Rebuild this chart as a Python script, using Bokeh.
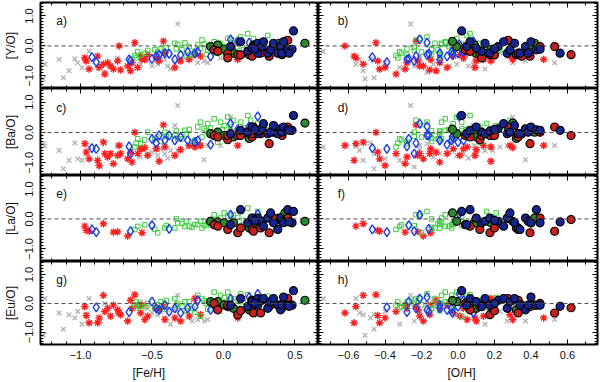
import numpy as np
from bokeh.plotting import figure
from bokeh.models import Range1d, LinearAxis, FixedTicker, Span, Label, Title
from bokeh.layouts import column, row
from bokeh.embed import file_html
from bokeh.resources import INLINE

NA = float("nan")

# ---------------- data ----------------
# gray crosses
gx_feh = [-1.26, -1.25, -1.15, -1.12, -1.08, -1.04, -1.02, -0.99, -0.96, -0.94, -0.86, -0.83, -0.74, -0.58, -0.53,
          -0.50, -0.46, -0.44, -0.41, -0.39, -0.37, -0.32, -0.34, -0.32, -0.25, -0.22, -0.18, -0.135, -0.11, -0.02, 0.05]
gx_oh = [-0.51, -0.56, -0.54, -0.46, -0.52, -0.48, -0.40, -0.32, -0.46, -0.74, -0.24, -0.17, -0.21, -0.135, -0.10,
         -0.044, -0.007, -0.21, 0.03, 0.057, 0.148, -0.26, 0.084, 0.19, 0.23, 0.27, 0.30, 0.37, 0.53, 0.09, 0.30]
gx_yo = [-1.10, -0.61, -0.45, -1.06, -0.83, -0.43, -0.56, -0.72, -0.50, -0.18, -0.67, -0.88, -0.40, -0.61, -0.50,
         -0.67, -0.61, -0.34, -0.45, -0.67, -0.77, 0.73, -0.61, -0.50, -0.24, -0.34, -0.56, -0.50, -0.56, -0.40, -0.30]
gx_bao = [-0.37, -0.45, -0.59, -1.20, -0.92, -0.35, -0.87, -0.92, -0.70, -0.48, -1.14, -0.37, -0.43, -0.81, -0.70,
          -0.65, -0.76, -0.55, -0.70, -0.85, -0.60, 0.89, 0.23, -0.59, -0.48, -0.43, -0.48, -0.90, -0.43, -0.43, 0.50]
gx_lao = [NA] * 31
gx_euo = [-1.10, 0.17, -0.33, -0.89, -0.39, -0.50, -0.28, -0.72, -0.37, 0.17, -0.61, 0.00, -0.33, 0.06, -0.17,
          -0.33, -0.40, -0.28, -0.50, -0.22, -0.72, 0.28, -0.22, -0.06, -0.28, -0.61, -0.56, -0.61, -0.55, -0.30, -0.20]

# red asterisks
rs_feh = [-0.97, -0.96, -0.94, -0.88, -0.87, -0.84, -0.83, -0.81, -0.79, -0.77, -0.74, -0.73, -0.72, -0.67, -0.65, -0.64,
          -0.62, -0.60, -0.58, -0.57, -0.53, -0.47, -0.42, -0.41, -0.34, -0.30, -0.24, -0.20, -0.16, 0.10, -0.55, -0.45]
rs_oh = [-0.56, -0.44, -0.43, -0.57, -0.40, -0.52, -0.34, -0.28, -0.21, -0.29, -0.22, -0.62, -0.155, -0.19, -0.12, -0.10,
         -0.45, -0.06, -0.026, -0.15, 0.01, 0.03, -0.23, 0.05, 0.093, 0.10, 0.14, 0.18, 0.285, 0.47, 0.30, 0.18]
rs_yo = [-0.40, -0.50, -0.77, -0.34, -0.72, -0.61, -0.94, -0.56, -0.67, -0.77, -0.50, 0.00, -0.80, -0.67, -0.83, -0.56,
         0.11, -0.72, -0.34, -0.45, -0.29, -0.40, 0.16, -0.24, -0.72, -0.50, -0.45, -0.29, -0.34, -0.45, -0.45, -0.50]
rs_bao = [-0.37, -0.65, -0.87, -0.92, -1.09, -0.32, -0.70, -0.81, -0.70, -1.03, -0.76, -0.43, -0.70, -0.87, -0.65, -0.98,
          0.00, -0.70, -0.54, -0.54, -0.76, -0.54, 0.25, -0.48, -0.76, -0.57, -0.43, -0.48, -0.43, -0.43, -0.50, -0.95]
rs_lao = [-0.24, -0.38, -0.41, NA, NA, -0.16, NA, NA, NA, -0.44, -0.43, NA, NA, -0.57, NA, NA,
          NA, NA, NA, -0.46, NA, NA, NA, NA, NA, NA, NA, NA, NA, NA, NA, NA]
rs_euo = [-0.11, -0.42, -0.67, -0.67, -0.50, 0.28, -0.28, -0.17, -0.44, -0.06, -0.22, -0.33, -0.39, -0.61, 0.11, -0.17,
          0.30, -0.06, -0.33, -0.06, -0.44, -0.17, -0.10, -0.56, -0.50, -0.61, -0.44, 0.17, -0.39, -0.50, -0.56, -0.20]

# green open squares
gs_feh = [-0.62, -0.61, -0.60, -0.58, -0.55, -0.53, -0.48, -0.46, -0.44, -0.41,
          -0.40, -0.34, -0.33, -0.32, -0.29, -0.27, -0.26, -0.24, -0.22, -0.20,
          -0.18, -0.16, -0.15, -0.135, -0.12, -0.11, -0.09, -0.065, -0.05, -0.04,
          -0.02, -0.007, 0.005, 0.03, 0.05, 0.07, 0.10, 0.12, 0.14, 0.17,
          0.19, 0.21, 0.24, 0.31]
gs_oh = [-0.34, -0.33, -0.32, -0.28, -0.31, -0.24, -0.145, -0.20, -0.28, -0.10,
         -0.24, -0.126, -0.145, -0.09, -0.11, -0.07, -0.10, -0.05, -0.145, -0.026,
         -0.035, 0.02, -0.035, 0.02, -0.10, -0.026, 0.084, -0.07, 0.157, 0.12,
         -0.09, 0.18, 0.21, -0.007, 0.12, -0.23, 0.02, -0.17, 0.23, 0.066,
         0.285, -0.21, 0.157, 0.047]
gs_yo = [-0.32, -0.40, -0.20, -0.30, -0.24, -0.15, -0.13, -0.20, -0.10, -0.24,
         -0.05, 0.09, -0.10, 0.05, -0.13, 0.10, -0.34, -0.02, -0.29, -0.18,
         0.03, -0.08, 0.20, 0.06, -0.29, -0.13, -0.02, 0.14, -0.24, -0.08,
         0.09, -0.22, -0.02, 0.25, 0.09, 0.19, -0.02, 0.30, -0.13, 0.41,
         -0.13, 0.25, 0.03, 0.35]
gs_bao = [-0.48, -0.35, -0.21, -0.37, -0.25, 0.01, -0.20, -0.15, -0.30, 0.01,
          -0.12, -0.10, 0.05, -0.21, -0.21, 0.07, -0.05, 0.10, -0.30, -0.26,
          0.18, 0.34, -0.15, 0.12, 0.05, 0.29, 0.15, 0.45, 0.00, -0.32,
          0.34, 0.10, 0.22, 0.51, 0.20, 0.40, 0.05, 0.34, 0.15, 0.56,
          0.40, 0.23, 0.30, 0.10]
gs_lao = [-0.35, NA, -0.25, NA, -0.20, NA, -0.35, -0.46, NA, -0.30,
          -0.22, -0.30, 0.00, -0.13, -0.15, -0.25, -0.08, -0.24, -0.28, -0.19,
          -0.18, -0.08, -0.30, -0.22, -0.19, -0.10, -0.20, 0.14, -0.08, -0.05,
          0.03, -0.15, 0.20, 0.10, NA, 0.14, 0.05, 0.25, -0.05, 0.36,
          0.05, 0.09, 0.25, NA]
gs_euo = [-0.06, 0.05, -0.15, -0.10, -0.11, 0.00, -0.17, -0.05, 0.06, -0.20,
          0.10, 0.17, -0.06, 0.00, -0.10, 0.06, -0.25, 0.05, -0.17, -0.30,
          0.28, -0.44, 0.17, 0.10, 0.00, -0.20, 0.00, 0.39, -0.15, 0.05,
          0.28, -0.10, 0.20, 0.39, 0.10, 0.17, -0.05, 0.33, 0.06, 0.30,
          0.10, 0.17, 0.20, 0.25]

# blue open diamonds
bd_feh = [-0.92, -0.89, -0.66, -0.65, -0.50, -0.47, -0.45, -0.41, -0.38, -0.34, -0.30, -0.25, -0.20, -0.18,
          0.05, 0.18, 0.24, 0.10, -0.09]
bd_oh = [-0.47, -0.39, -0.28, -0.24, -0.27, -0.23, -0.17, -0.10, -0.16, -0.10, -0.03, -0.035, 0.00, 0.03,
         -0.21, -0.17, 0.007, 0.084, -0.06]
bd_yo = [-0.37, -0.54, -0.45, -0.50, -0.43, -0.34, -0.30, -0.24, -0.26, -0.45, -0.30, -0.20, -0.25, -0.20,
         0.22, 0.11, 0.05, 0.15, -0.35]
bd_bao = [-0.52, -0.54, -0.46, -0.70, -0.21, -0.35, -0.10, -0.26, -0.10, -0.26, -0.15, -0.26, -0.32, -0.26,
          0.29, 0.20, 0.53, 0.10, -0.40]
bd_lao = [-0.35, -0.44, NA, -0.41, -0.21, NA, NA, NA, -0.33, NA, NA, NA, NA, NA,
          0.14, NA, 0.16, NA, NA]
bd_euo = [NA, -0.14, -0.30, NA, 0.06, -0.17, -0.22, -0.06, -0.28, -0.17, -0.33, -0.17, -0.11, 0.11,
          0.17, 0.22, 0.33, -0.33, -0.22]

# filled circles: blue
bc_feh = [0.05, 0.12, 0.17, 0.20, 0.24, 0.24, 0.27, 0.28, 0.31, 0.33, 0.35, 0.38, 0.40, 0.41, 0.42, 0.45, 0.48, 0.49, 0.46, 0.22]
bc_oh = [0.047, 0.066, 0.13, 0.10, 0.148, 0.175, 0.22, 0.25, 0.27, 0.285, 0.31, 0.34, 0.37, 0.385, 0.40, 0.43, 0.45, 0.02, 0.56, 0.20]
bc_yo = [-0.02, 0.14, -0.18, -0.08, 0.09, -0.24, -0.02, 0.14, -0.24, -0.13, 0.09, -0.24, -0.02, -0.24, 0.14, -0.13, -0.11, 0.50, -0.24, -0.10]
bc_bao = [-0.04, 0.07, 0.01, 0.18, -0.04, 0.05, 0.12, 0.29, -0.04, 0.01, 0.23, -0.04, 0.12, 0.01, 0.18, 0.09, 0.07, 0.56, 0.07, 0.10]
bc_lao = [-0.19, 0.31, -0.13, 0.03, -0.08, 0.03, -0.08, -0.24, 0.03, 0.20, -0.13, -0.35, 0.03, -0.08, -0.13, 0.31, -0.13, 0.25, -0.10, -0.05]
bc_euo = [-0.06, 0.17, -0.11, 0.06, 0.17, -0.06, 0.11, 0.17, -0.17, 0.06, 0.17, -0.06, -0.22, -0.06, 0.22, -0.06, -0.06, 0.44, -0.10, 0.00]

# filled circles: red
rc_feh = [-0.065, -0.04, 0.03, 0.03, 0.10, 0.20, 0.21, 0.20, 0.26, 0.32, 0.35, 0.41, 0.45, 0.12]
rc_oh = [0.04, 0.066, 0.12, 0.13, 0.175, 0.33, 0.53, 0.35, 0.33, 0.395, 0.45, 0.62, 0.275, 0.20]
rc_yo = [-0.13, -0.18, -0.26, -0.40, -0.29, -0.29, -0.02, -0.34, -0.24, -0.34, -0.02, -0.29, 0.19, -0.30]
rc_bao = [-0.10, -0.15, -0.24, -0.10, -0.10, -0.15, 0.18, -0.04, -0.04, -0.37, 0.01, -0.10, 0.18, -0.10]
rc_lao = [-0.19, -0.24, -0.35, NA, -0.46, -0.35, -0.41, NA, -0.30, -0.46, 0.03, -0.02, 0.03, -0.30]
rc_euo = [0.00, -0.22, -0.11, -0.06, -0.39, 0.11, -0.33, -0.06, -0.33, -0.11, 0.00, -0.15, 0.17, -0.25]

# filled circles: green
gc_feh = [-0.09, -0.04, 0.005, 0.07, 0.18, 0.21, 0.39, 0.43, 0.57]
gc_oh = [-0.007, 0.09, 0.18, 0.10, 0.32, 0.40, 0.42, -0.03, 0.30]
gc_yo = [-0.02, 0.03, -0.11, -0.24, -0.29, 0.03, 0.09, 0.15, 0.09]
gc_bao = [-0.04, 0.01, -0.10, -0.15, -0.20, 0.07, 0.01, 0.10, 0.31]
gc_lao = [-0.08, -0.10, -0.13, -0.13, -0.30, -0.13, 0.03, 0.20, -0.08]
gc_euo = [0.06, 0.06, -0.05, -0.17, -0.22, -0.05, -0.06, 0.10, 0.11]

elements = ["Y", "Ba", "La", "Eu"]
y_titles = ["[Y/O]", "[Ba/O]", "[La/O]", "[Eu/O]"]
letters = [("a)", "b)"), ("c)", "d)"), ("e)", "f)"), ("g)", "h)")]

# ---------------- styling / layout ----------------
FONT = "Liberation Sans"
X_FEH = (-1.28, 0.665)
X_OH = (-0.765, 0.765)
Y_LIM = (-1.42, 1.45)

groups = [
    dict(feh=gx_feh, oh=gx_oh, vals=[gx_yo, gx_bao, gx_lao, gx_euo], marker="x", size=6.5,
         line_color="#b4b4b4", fill_color=None, line_width=1.4),
    dict(feh=rs_feh, oh=rs_oh, vals=[rs_yo, rs_bao, rs_lao, rs_euo], marker="asterisk", size=7.5,
         line_color="#ff1e1e", fill_color=None, line_width=1.4),
    dict(feh=gs_feh, oh=gs_oh, vals=[gs_yo, gs_bao, gs_lao, gs_euo], marker="square", size=4.5,
         line_color="#3ccc3c", fill_color=None, line_width=1),
    dict(feh=bd_feh, oh=bd_oh, vals=[bd_yo, bd_bao, bd_lao, bd_euo], marker="diamond", size=9,
         line_color="#1e3ce6", fill_color=None, line_width=1.4),
    dict(feh=gc_feh, oh=gc_oh, vals=[gc_yo, gc_bao, gc_lao, gc_euo], marker="circle", size=8,
         line_color="black", fill_color="#2e8a2e", line_width=1.2),
    dict(feh=rc_feh, oh=rc_oh, vals=[rc_yo, rc_bao, rc_lao, rc_euo], marker="circle", size=8,
         line_color="black", fill_color="#c8221e", line_width=1.2),
    dict(feh=bc_feh, oh=bc_oh, vals=[bc_yo, bc_bao, bc_lao, bc_euo], marker="circle", size=8,
         line_color="black", fill_color="#16248f", line_width=1.2),
]

y_major = [-1.0, 0.0, 1.0]
y_minor = np.round(np.arange(-1.4, 1.41, 0.1), 2).tolist()
y_labels = {-1.0: "\u22121.0", 0.0: "0.0", 1.0: "1.0"}
feh_major = [-1.0, -0.5, 0.0, 0.5]
feh_minor = np.round(np.arange(-1.2, 0.61, 0.1), 2).tolist()
feh_labels = {-1.0: "\u22121.0", -0.5: "\u22120.5", 0.0: "0.0", 0.5: "0.5"}
oh_major = [-0.6, -0.4, -0.2, 0.0, 0.2, 0.4, 0.6]
oh_minor = np.round(np.arange(-0.7, 0.71, 0.1), 2).tolist()
oh_labels = {-0.6: "\u22120.6", -0.4: "\u22120.4", -0.2: "\u22120.2", 0.0: "0.0", 0.2: "0.2", 0.4: "0.4", 0.6: "0.6"}

FRAME_H = [86, 87, 86, 84]
TOP_B = [2, 0, 0, 0]
LEFT_B = 40
FRAME_W = (278, 279)
RIGHT_B = 3
BOTTOM_B = 37


def make_axis(ticks, minor, labels=None, fixed=None):
    ax = LinearAxis(ticker=FixedTicker(ticks=ticks, minor_ticks=minor))
    ax.axis_line_color = None
    ax.major_tick_in = 5
    ax.major_tick_out = 0
    ax.minor_tick_in = 3
    ax.minor_tick_out = 0
    ax.major_tick_line_color = "black"
    ax.minor_tick_line_color = "black"
    ax.major_tick_line_width = 1
    ax.minor_tick_line_width = 1
    if labels is None:
        ax.major_label_text_color = None
        ax.major_label_text_alpha = 0
        ax.major_label_standoff = 0
        ax.fixed_location = fixed
    else:
        ax.major_label_overrides = labels
        ax.major_label_text_font = FONT
        ax.major_label_text_font_size = "11px"
        ax.major_label_text_color = "#111111"
    return ax


def make_panel(r, is_left):
    is_bottom = r == 3
    xr = X_FEH if is_left else X_OH
    left_b = LEFT_B if is_left else 0
    right_b = 0 if is_left else RIGHT_B
    frame_w = FRAME_W[0] if is_left else FRAME_W[1]
    bottom_b = BOTTOM_B if is_bottom else 0
    p = figure(width=left_b + frame_w + right_b, height=TOP_B[r] + FRAME_H[r] + bottom_b,
               x_range=Range1d(*xr), y_range=Range1d(*Y_LIM),
               x_axis_location=None, y_axis_location=None,
               output_backend="svg", toolbar_location=None, tools="",
               min_border_left=left_b, min_border_right=right_b,
               min_border_top=TOP_B[r], min_border_bottom=bottom_b)
    p.xgrid.visible = False
    p.ygrid.visible = False
    p.outline_line_color = "black"
    p.outline_line_width = 2
    p.background_fill_color = "white"
    p.border_fill_color = "white"

    xmaj, xmin, xlab = (feh_major, feh_minor, feh_labels) if is_left else (oh_major, oh_minor, oh_labels)

    if is_left:
        ax = make_axis(y_major, y_minor, y_labels)
        ax.major_label_orientation = "vertical"
        ax.major_label_standoff = 7
        ax.axis_label = y_titles[r]
        ax.axis_label_text_font = FONT
        ax.axis_label_text_font_size = "12px"
        ax.axis_label_text_font_style = "normal"
        ax.axis_label_text_color = "#111111"
        ax.axis_label_standoff = 5
        p.add_layout(ax, "left")
    else:
        p.add_layout(make_axis(y_major, y_minor, fixed=xr[0]), "left")
    p.add_layout(make_axis(y_major, y_minor, fixed=xr[1]), "right")
    p.add_layout(make_axis(xmaj, xmin, fixed=Y_LIM[1]), "above")
    if is_bottom:
        bx = make_axis(xmaj, xmin, xlab)
        bx.major_label_standoff = 6
        p.add_layout(bx, "below")
        t = Title(text="[Fe/H]" if is_left else "[O/H]", align="left",
                  offset=92 if is_left else 129, text_font=FONT, text_font_size="12px",
                  text_font_style="normal", standoff=5, text_color="#111111")
        p.add_layout(t, "below")
    else:
        p.add_layout(make_axis(xmaj, xmin, fixed=Y_LIM[0]), "below")

    p.add_layout(Span(location=0, dimension="width", line_color="#4a4a4a",
                      line_dash="4 3", line_width=1))

    for g in groups:
        xs = np.array(g["feh"] if is_left else g["oh"], dtype=float)
        ys = np.array(g["vals"][r], dtype=float)
        m = ~np.isnan(ys)
        p.scatter(xs[m], ys[m], marker=g["marker"], size=g["size"], line_color=g["line_color"],
                  fill_color=g["fill_color"], line_width=g["line_width"])

    p.add_layout(Label(x=-1.17 if is_left else -0.66, y=0.82, text=letters[r][0 if is_left else 1],
                       text_font=FONT, text_font_size="12px", text_baseline="middle",
                       text_align="left", text_color="#111111"))
    return p


rows = [row(make_panel(r, True), make_panel(r, False), spacing=0) for r in range(4)]
layout = column(*rows, spacing=0)

open("out.html", "w").write(file_html(layout, INLINE))
